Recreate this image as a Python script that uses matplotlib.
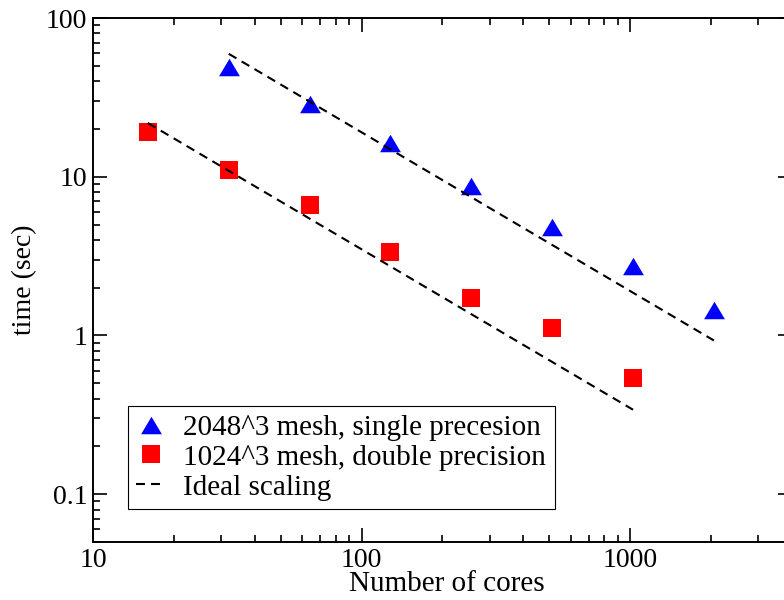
import numpy as np
import matplotlib
matplotlib.use("Agg")
import matplotlib.pyplot as plt
from matplotlib.path import Path

serif = ['Liberation Serif', 'DejaVu Serif']
plt.rcParams['font.family'] = serif

# timings for the 2048^3 run (single precision)
cores_2048 = [32, 64, 128, 256, 512, 1024, 2048]
time_2048 = [49.2, 28.9, 16.4, 8.74, 4.85, 2.73, 1.44]

# timings for the 1024^3 run (double precision)
cores_1024 = [16, 32, 64, 128, 256, 512, 1024]
time_1024 = [19.2, 11.0, 6.6, 3.35, 1.73, 1.11, 0.538]

# ideal scaling reference: t0 * n0 / n
ideal_2048_start = (32, 59.5)
ideal_1024_start = (16, 21.8)

fig = plt.figure(figsize=(7.84, 6.0), dpi=100)
ax = fig.add_axes([93 / 784, 58 / 600, 699 / 784, 524 / 600])

# slightly flattened triangle
tri = Path([(-1, -0.84), (1, -0.84), (0, 0.84), (-1, -0.84)],
           [Path.MOVETO, Path.LINETO, Path.LINETO, Path.CLOSEPOLY])

ax.plot(cores_2048, time_2048, linestyle='none', marker=tri, markersize=15,
        color='#0000ff', markeredgewidth=0,
        label='2048^3 mesh, single precesion')
ax.plot(cores_1024, time_1024, linestyle='none', marker='s', markersize=12.7,
        color='#ff0000', markeredgewidth=0,
        label='1024^3 mesh, double precision')

dash = (0, (4.3, 2.9))
n_hi = np.array([cores_2048[0], cores_2048[-1]], dtype=float)
ax.plot(n_hi, ideal_2048_start[1] * ideal_2048_start[0] / n_hi,
        color='black', lw=1.5, linestyle=dash, label='Ideal scaling')
n_lo = np.array([cores_1024[0], cores_1024[-1]], dtype=float)
ax.plot(n_lo, ideal_1024_start[1] * ideal_1024_start[0] / n_lo,
        color='black', lw=1.5, linestyle=dash)

ax.set_xscale('log')
ax.set_yscale('log')
ax.set_xlim(10, 4000)
ax.set_ylim(0.05, 100)

ax.set_xticks([10, 100, 1000])
ax.set_xticklabels(['10', '100', '1000'])
ax.set_yticks([0.1, 1, 10, 100])
ax.set_yticklabels(['0.1', '1', '10', '100'])

ax.tick_params(which='both', direction='in', top=True, right=True,
               width=1.2, color='black')
ax.tick_params(which='major', length=10, labelsize=20, pad=4,
               labelfontfamily=serif)
ax.tick_params(which='minor', length=5)
for s in ax.spines.values():
    s.set_linewidth(1.4)

ax.set_xlabel('Number of cores', fontsize=21)
ax.xaxis.set_label_coords(0.506, -0.056)
ax.set_ylabel('time (sec)', fontsize=20)
ax.yaxis.set_label_coords(-0.080, 0.5)

leg = ax.legend(loc='lower left', bbox_to_anchor=(0.0496, 0.0624),
                borderaxespad=0, fontsize=21, numpoints=1,
                handlelength=1.0, handletextpad=0.6, labelspacing=0.12,
                borderpad=0.3, fancybox=False, framealpha=1)
leg.get_frame().set_edgecolor('black')
leg.get_frame().set_linewidth(0.8)

fig.savefig('out.png', dpi=100)
